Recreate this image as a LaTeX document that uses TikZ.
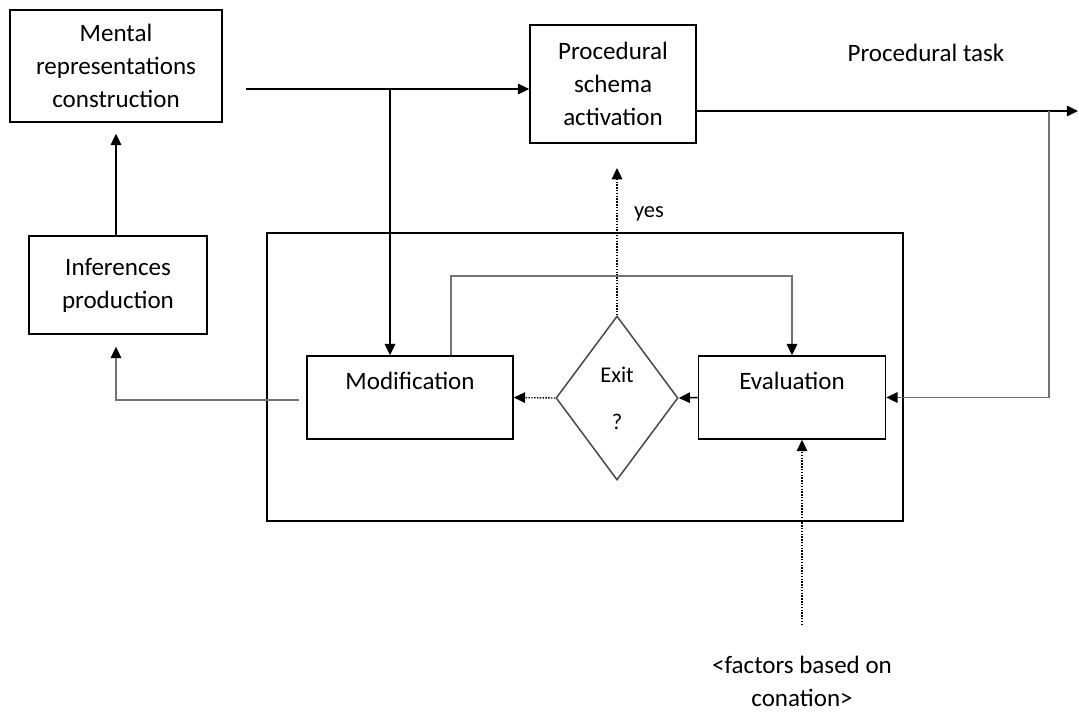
\documentclass[tikz,border=0pt]{standalone}
\usepackage{fontspec}
\setmainfont{Carlito}
\usepackage{tikz}
\usetikzlibrary{shapes.geometric,arrows.meta,positioning,calc}

\tikzset{
  txt/.style={font=\fontsize{17.8}{23.5}\selectfont, align=center},
  smalltxt/.style={font=\fontsize{16}{19}\selectfont, align=center},
  box/.style={draw, rectangle, line width=1.1pt, inner sep=0pt, txt},
  arr/.style={-{Triangle[length=8pt,width=7.5pt]}, line width=1.1pt},
  glink/.style={-{Triangle[length=8pt,width=7.5pt,color=black]}, line width=1.1pt, draw=black!55},
  dotarr/.style={-{Triangle[length=8pt,width=7.5pt]}, line width=1pt, densely dotted}
}

\begin{document}
\begin{tikzpicture}[x=0.025cm, y=-0.025cm]
  \useasboundingbox (0,0) rectangle (1079,713);

  % Left column
  \node[box, minimum width=5.3cm, minimum height=2.8cm] (mental) at (116,66) {Mental\\representations\\construction};
  \node[box, minimum width=4.45cm, minimum height=2.45cm] (infer) at (118,285) {Inferences\\production};

  % Procedural schema
  \node[box, minimum width=4.15cm, minimum height=2.95cm] (schema) at (613,84) {Procedural\\schema\\activation};
  \node[txt] (task) at (926,53) {Procedural task};

  % Evaluation loop
  \node[draw, rectangle, line width=1.1pt, minimum width=15.9cm, minimum height=7.2cm] (loop) at (585,377) {};
  \node[box, minimum width=5.15cm, minimum height=2.075cm] (modif) at (410,397.5) {Modification\\~};
  \node[draw=black!70, diamond, line width=1.1pt, inner sep=0pt, minimum width=3.05cm, minimum height=4.1cm, smalltxt] (exit) at (617,398) {Exit\\[0.5cm]?};
  \node[box, minimum width=4.675cm, minimum height=2.075cm] (eval) at (792,397.5) {Evaluation\\~};
  \node[smalltxt] (yes) at (649,214) {yes};
  \node[txt] (factors) at (802,681) {<factors based on\\conation>};

  % Free ends
  \coordinate (src) at (246,89);
  \coordinate (split) at (390,89);
  \coordinate (out) at (1078,111);
  \coordinate (fb) at (1049,111);
  \coordinate (up) at (617,168);
  \coordinate (conat) at (802,625);
  \coordinate (mleft) at (299,400);

  % Connectors
  \draw[arr] (infer.north -| mental.south) -- ($(mental.south)+(0,11)$);
  \draw[arr] (src) -- (src -| schema.west);
  \draw[arr] (split) -- (split |- modif.north);
  \draw[arr] (schema.east |- out) -- (out);
  \draw[glink] (fb) |- (eval.east);
  \draw[arr] (eval.west) -- (exit.east);
  \draw[dotarr] (exit.west) -- (modif.east);
  \draw[dotarr] (exit.north) -- (up);
  \draw[glink] ([xshift=1.025cm]modif.north) -- ++(0,-79) -| (eval.north);
  \draw[dotarr] (conat) -- (conat |- eval.south);
  \draw[glink] (mleft) -| ($(infer.south -| mental.south)+(0,12)$);
\end{tikzpicture}
\end{document}
